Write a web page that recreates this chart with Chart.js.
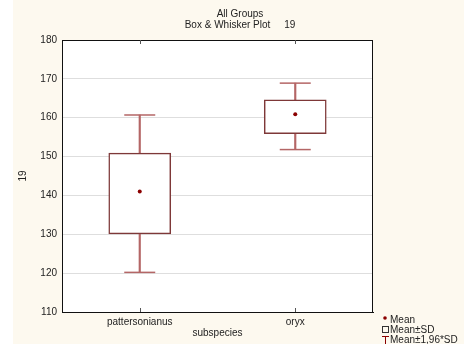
<!DOCTYPE html>
<html>
<head>
<meta charset="utf-8">
<script src="https://cdn.jsdelivr.net/npm/chart.js@4"></script>
<style>
  body { margin: 0; background: #fff; }
  #caixa { width: 464px; height: 344px; }
</style>
</head>
<body>
<div id="caixa"><canvas id="grafico" width="464" height="344"></canvas></div>
<script>
// Box & Whisker: média, média±DP e média±1,96*DP por subespécie.
const categorias = ['pattersonianus', 'oryx'];
const medias = [141.0, 160.9];
const dpBaixo = [130.1, 155.9];
const dpAlto = [150.9, 164.6];
const ciBaixo = [120.2, 151.8];
const ciAlto = [160.7, 168.9];
const ticksY = [110, 120, 130, 140, 150, 160, 170, 180];

const COR = {
  creme: '#fdf9ef',
  caixa: '#7e3838',
  bigode: '#b46666',
  media: '#8b0000',
  grelha: '#dedede',
  texto: '#222',
};

Chart.defaults.font.family = "'Liberation Sans', Arial, sans-serif";
Chart.defaults.font.size = 10;
Chart.defaults.color = COR.texto;

// Fundo creme, área do gráfico branca, moldura, marcas e legenda.
const decoracao = {
  id: 'decoracao',
  beforeDraw(chart) {
    const { ctx, chartArea: a } = chart;
    ctx.save();
    ctx.fillStyle = COR.creme;
    ctx.fillRect(13, 0, chart.width - 13, chart.height);
    ctx.fillStyle = '#fff';
    ctx.fillRect(a.left, a.top, a.right - a.left, a.bottom - a.top);
    ctx.restore();
  },
  afterDraw(chart) {
    const { ctx, chartArea: a } = chart;
    const x = chart.scales.x;
    ctx.save();
    ctx.strokeStyle = '#111';
    ctx.lineWidth = 1;
    ctx.strokeRect(a.left + 0.5, a.top + 0.5, a.right - a.left - 1, a.bottom - a.top);

    // pequenas marcas das categorias em cima e em baixo
    ctx.strokeStyle = '#555';
    categorias.forEach((c, i) => {
      const px = Math.round(x.getPixelForTick(i)) + 0.5;
      ctx.beginPath();
      ctx.moveTo(px, a.bottom); ctx.lineTo(px, a.bottom - 4);
      ctx.moveTo(px, a.top); ctx.lineTo(px, a.top + 4);
      ctx.stroke();
    });

    // título
    ctx.fillStyle = COR.texto;
    ctx.font = "10px 'Liberation Sans', Arial, sans-serif";
    ctx.textAlign = 'center';
    ctx.textBaseline = 'middle';
    ctx.fillText('All Groups', 240, 14);
    ctx.fillText('Box & Whisker Plot     19', 240, 25);

    // legenda
    ctx.textAlign = 'left';
    ctx.fillText('Mean', 390, 320);
    ctx.fillText('Mean±SD', 390, 330);
    ctx.fillText('Mean±1,96*SD', 390, 340);
    ctx.fillStyle = COR.media;
    ctx.beginPath();
    ctx.arc(385, 318, 1.8, 0, Math.PI * 2);
    ctx.fill();
    ctx.strokeStyle = '#333';
    ctx.strokeRect(382.5, 326.5, 6, 6);
    ctx.strokeStyle = COR.media;
    ctx.beginPath();
    ctx.moveTo(382, 336.5); ctx.lineTo(389, 336.5);
    ctx.moveTo(385.5, 336.5); ctx.lineTo(385.5, 344);
    ctx.stroke();
    ctx.restore();
  },
};

const faixa = (a, b) => a.map((v, i) => [v, b[i]]);

new Chart(document.getElementById('grafico'), {
  type: 'bar',
  data: {
    labels: categorias,
    datasets: [
      {
        // bigodes (média±1,96*DP)
        data: faixa(ciBaixo, ciAlto),
        backgroundColor: COR.bigode,
        barThickness: 1.5,
        grouped: false,
        order: 3,
      },
      {
        // caixa (média±DP)
        data: faixa(dpBaixo, dpAlto),
        backgroundColor: '#fff',
        borderColor: COR.caixa,
        borderWidth: 1.5,
        borderSkipped: false,
        barThickness: 62,
        grouped: false,
        order: 2,
      },
      {
        type: 'line',
        data: ciAlto,
        showLine: false,
        pointStyle: 'line',
        pointRadius: 15.5,
        pointBorderWidth: 1.5,
        pointBorderColor: COR.bigode,
        order: 1,
      },
      {
        type: 'line',
        data: ciBaixo,
        showLine: false,
        pointStyle: 'line',
        pointRadius: 15.5,
        pointBorderWidth: 1.5,
        pointBorderColor: COR.bigode,
        order: 1,
      },
      {
        // média
        type: 'line',
        data: medias,
        showLine: false,
        pointStyle: 'circle',
        pointRadius: 2,
        pointBorderWidth: 0,
        pointBackgroundColor: COR.media,
        order: 0,
      },
    ],
  },
  options: {
    responsive: false,
    animation: false,
    layout: { padding: { top: 40, right: 91, left: 0, bottom: 0 } },
    plugins: {
      legend: { display: false },
      tooltip: { enabled: false },
    },
    scales: {
      x: {
        offset: true,
        grid: { display: false, drawTicks: false },
        border: { color: '#111' },
        ticks: { padding: 4, color: COR.texto },
        title: { display: true, text: 'subspecies', padding: { top: 0, bottom: 5 } },
        afterFit: (s) => { s.height = 32; },
      },
      y: {
        min: ticksY[0],
        max: ticksY[ticksY.length - 1],
        afterBuildTicks: (s) => { s.ticks = ticksY.map((v) => ({ value: v })); },
        grid: { color: COR.grelha, drawTicks: false },
        border: { color: '#111' },
        ticks: { padding: 5, color: COR.texto },
        title: { display: true, text: '19', padding: { top: 17, bottom: 0 } },
        afterFit: (s) => { s.width = 62; },
      },
    },
  },
  plugins: [decoracao],
});
</script>
</body>
</html>
